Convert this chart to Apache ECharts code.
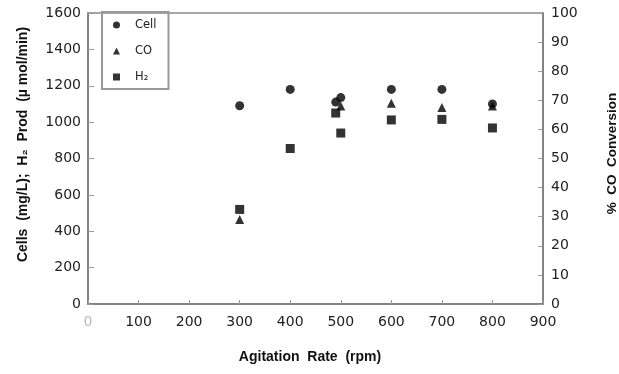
<!DOCTYPE html>
<html>
<head>
<meta charset="utf-8">
<script src="https://cdn.jsdelivr.net/npm/echarts@6/dist/echarts.min.js"></script>
<style>html,body{margin:0;padding:0;background:#fff}#c{width:619px;height:374px}</style>
</head>
<body>
<div id="c"></div>
<script>
// Agitation rate (rpm) for each series
var cellRpm = [300, 400, 490, 500, 600, 700, 800];
var cellVals = [1090, 1180, 1110, 1135, 1180, 1180, 1100];   // mg/L (left axis)
var coRpm = [300, 500, 600, 700, 800];
var coVals = [29, 68, 69, 67.5, 68];                         // % CO conversion (right axis)
var h2Rpm = [300, 400, 490, 500, 600, 700, 800];
var h2Vals = [520, 855, 1050, 940, 1012, 1015, 968];         // umol/min (left axis)

function pairs(xs, ys){ return xs.map(function(x,i){ return [x, ys[i]]; }); }
function plain(v){ return String(v); }

var font = 'DejaVu Sans';
var chart = echarts.init(document.getElementById('c'));
chart.setOption({
  animation: false,
  backgroundColor: '#fff',
  textStyle: {fontFamily: font},
  grid: {left: 88, right: 76, top: 13, bottom: 70, containLabel: false, outerBoundsMode: 'none',
         show: true, borderColor: '#8a8a8a', borderWidth: 1.5},
  legend: {
    orient: 'vertical', left: 102, top: 12,
    padding: [7, 12, 6, 11], itemGap: 14, itemWidth: 7, itemHeight: 7,
    borderColor: '#999', borderWidth: 2,
    textStyle: {fontFamily: font, fontSize: 11.5, color: '#222', padding: [0, 0, 0, 10]},
    data: [{name: 'Cell', icon: 'circle'}, {name: 'CO', icon: 'triangle'}, {name: 'H₂', icon: 'rect'}]
  },
  xAxis: {
    type: 'value', min: 0, max: 900, interval: 100,
    name: 'Agitation  Rate  (rpm)', nameLocation: 'middle', nameGap: 46,
    nameTextStyle: {fontFamily: 'Liberation Sans', fontWeight: 'bold', fontSize: 14, color: '#111', padding: [0, 11, 0, 0]},
    axisLine: {lineStyle: {color: '#777', width: 1.5}},
    axisTick: {inside: true, length: 4, lineStyle: {color: '#999'}},
    axisLabel: {fontSize: 14, margin: 11, formatter: plain, color: function(v){ return +v === 0 ? '#bbb' : '#222'; }},
    splitLine: {show: false}
  },
  yAxis: [{
    type: 'value', min: 0, max: 1600, interval: 200, position: 'left',
    name: 'Cells  (mg/L);  H₂  Prod  (µ mol/min)', nameLocation: 'middle', nameRotate: 90, nameGap: 58,
    nameTextStyle: {fontFamily: 'Liberation Sans', fontWeight: 'bold', fontSize: 14, color: '#111', padding: [0, 0, 0, 28]},
    axisLine: {show: true, lineStyle: {color: '#777', width: 1.5}},
    axisTick: {show: true, inside: true, length: 6, lineStyle: {color: '#999'}},
    axisLabel: {fontSize: 14, margin: 7, formatter: plain, color: '#222'},
    splitLine: {show: false}
  }, {
    type: 'value', min: 0, max: 100, interval: 10, position: 'right',
    name: '%  CO  Conversion', nameLocation: 'middle', nameRotate: 90, nameGap: 62,
    nameTextStyle: {fontFamily: 'Liberation Sans', fontWeight: 'bold', fontSize: 13.5, color: '#111', padding: [0, 0, 0, 10]},
    axisLine: {show: true, lineStyle: {color: '#777', width: 1.5}},
    axisTick: {show: true, inside: true, length: 5, lineStyle: {color: '#999'}},
    axisLabel: {fontSize: 14, margin: 8, formatter: plain, color: '#222'},
    splitLine: {show: false}
  }],
  series: [{
    name: 'Cell', type: 'scatter', yAxisIndex: 0, symbol: 'circle', symbolSize: 9,
    itemStyle: {color: '#000'}, data: pairs(cellRpm, cellVals)
  }, {
    name: 'CO', type: 'scatter', yAxisIndex: 1, symbol: 'triangle', symbolSize: 9,
    itemStyle: {color: '#000'}, data: pairs(coRpm, coVals)
  }, {
    name: 'H₂', type: 'scatter', yAxisIndex: 0, symbol: 'rect', symbolSize: 9,
    itemStyle: {color: '#000'}, data: pairs(h2Rpm, h2Vals)
  }]
});
</script>
</body>
</html>
